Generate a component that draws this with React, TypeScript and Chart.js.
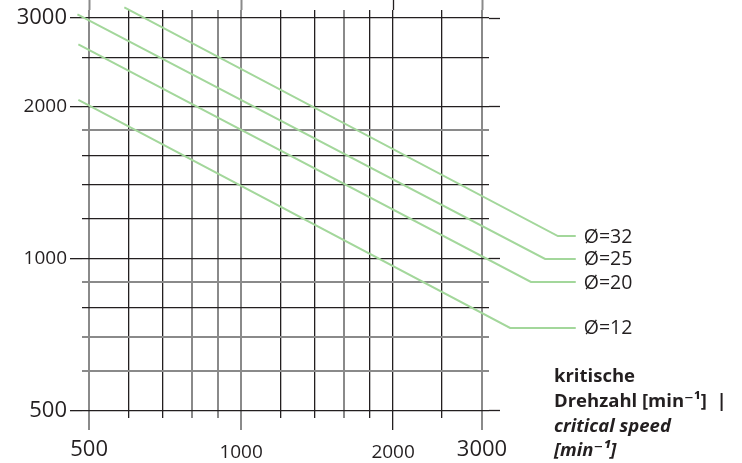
import React, { useEffect, useRef } from 'react';
import { Chart, registerables } from 'chart.js';

Chart.register(...registerables);

// Axis ranges (values)
const X_MIN = 484;
const X_MAX = 3097;
const Y_MIN = 484;
const Y_MAX = 3112;

// Grid / tick values (rpm)
const gridValues = [500, 600, 700, 800, 900, 1000, 1200, 1400, 1600, 1800, 2000, 2500, 3000];
const majorValues = [500, 1000, 2000, 3000];
const bigLabelValues = [500, 3000];
const xGreyLines = [500, 800, 900, 1000, 1600, 3000];
const yGreyLines = [600, 700, 900, 1800];

// Series (diameter curves): x = speed value, y = critical speed
const seriesLabels = ['Ø=32', 'Ø=25', 'Ø=20', 'Ø=12'];
const seriesX = [
  [587, 4240, 4600],
  [474, 4000, 4600],
  [476, 3750, 4600],
  [476, 3410, 4600],
];
const seriesY = [
  [3150, 1110, 1110],
  [3050, 1000, 1000],
  [2660, 900, 900],
  [2065, 730, 730],
];

const titleLines = [
  { text: 'kritische', italic: false },
  { text: 'Drehzahl [min⁻¹]  |', italic: false },
  { text: 'critical speed', italic: true },
  { text: '[min⁻¹]', italic: true },
];

const DARK = '#231f20';
const GREY = '#8a8a8a';
const GREEN = '#a3d79b';
const FONT = '"Open Sans", "DejaVu Sans", sans-serif';

function setGridTicks(scale: any) {
  scale.ticks = gridValues.map((v) => ({ value: v }));
}

function lineColor(grey: number[]) {
  return (ctx: any) => (ctx.tick && grey.includes(ctx.tick.value) ? GREY : DARK);
}
function lineWidth(grey: number[]) {
  return (ctx: any) => (ctx.tick && grey.includes(ctx.tick.value) ? 2 : 1.3);
}
function majorTickColor(grey: number[]) {
  return (ctx: any) => {
    if (!ctx.tick || !majorValues.includes(ctx.tick.value)) return 'rgba(0,0,0,0)';
    return grey.includes(ctx.tick.value) ? GREY : DARK;
  };
}

const tickFont = (ctx: any) => {
  const v = ctx.tick ? ctx.tick.value : 0;
  const big = bigLabelValues.includes(v);
  return { family: FONT, size: big ? 22 : 19, lineHeight: big ? 1.2 : 1.6 };
};

const labelCallback = (v: any) => (majorValues.includes(Number(v)) ? String(v) : '');

const overlayPlugin = {
  id: 'overlayText',
  afterDatasetsDraw(chart: any) {
    const ctx = chart.ctx;
    const area = chart.chartArea;
    ctx.save();
    ctx.fillStyle = DARK;
    ctx.textBaseline = 'middle';
    ctx.textAlign = 'left';
    ctx.font = `19.5px ${FONT}`;
    chart.data.datasets.forEach((ds: any, i: number) => {
      const meta = chart.getDatasetMeta(i);
      // first point of the (reversed) path is the end of the leader line
      const p = meta.data[0];
      if (p) ctx.fillText(ds.label, p.x + 8, p.y + 1);
    });
    const x0 = area.right + 65;
    let y = area.bottom - 41;
    titleLines.forEach((ln) => {
      ctx.font = `${ln.italic ? 'italic ' : ''}bold 18.5px ${FONT}`;
      ctx.fillText(ln.text, x0, y);
      y += 24.7;
    });
    ctx.restore();
  },
};

export default function App() {
  const ref = useRef<HTMLCanvasElement | null>(null);

  useEffect(() => {
    if (!ref.current) return;
    // path is built from the label end backwards, so every point is drawn
    const datasets = seriesLabels.map((label, i) => ({
      label,
      data: seriesX[i].map((x, j) => ({ x, y: seriesY[i][j] })).reverse(),
      borderColor: GREEN,
      borderWidth: 2,
      pointRadius: 0,
      fill: false,
      tension: 0,
      clip: false as any,
      xAxisID: 'x',
      yAxisID: 'y',
    }));

    const chart = new Chart(ref.current, {
      type: 'line',
      data: { datasets },
      plugins: [overlayPlugin],
      options: {
        animation: false,
        responsive: false,
        devicePixelRatio: 1,
        layout: { padding: { left: 0, top: 0, right: 242, bottom: 0 } },
        plugins: { legend: { display: false }, tooltip: { enabled: false } },
        scales: {
          x: {
            type: 'logarithmic',
            axis: 'x',
            position: 'bottom',
            min: X_MIN,
            max: X_MAX,
            afterBuildTicks: setGridTicks,
            afterFit: (s: any) => {
              s.height = 45;
              s.paddingLeft = 0;
              s.paddingRight = 0;
            },
            border: { display: false },
            grid: {
              color: lineColor(xGreyLines),
              lineWidth: lineWidth(xGreyLines),
              drawTicks: true,
              tickLength: 12,
              tickColor: majorTickColor(xGreyLines),
              tickWidth: lineWidth(xGreyLines),
            },
            ticks: {
              autoSkip: false,
              maxRotation: 0,
              minRotation: 0,
              padding: 7,
              color: DARK,
              font: tickFont,
              callback: labelCallback,
            },
          },
          xTop: {
            type: 'logarithmic',
            axis: 'x',
            position: 'top',
            min: X_MIN,
            max: X_MAX,
            afterBuildTicks: setGridTicks,
            afterFit: (s: any) => {
              s.height = 10;
              s.paddingLeft = 0;
              s.paddingRight = 0;
            },
            border: { display: false },
            grid: {
              drawOnChartArea: false,
              drawTicks: true,
              tickLength: 10,
              tickColor: majorTickColor(xGreyLines),
              tickWidth: lineWidth(xGreyLines),
            },
            ticks: { display: false, autoSkip: false },
          },
          y: {
            type: 'logarithmic',
            axis: 'y',
            position: 'left',
            min: Y_MIN,
            max: Y_MAX,
            afterBuildTicks: setGridTicks,
            afterFit: (s: any) => {
              s.width = 82;
              s.paddingTop = 0;
              s.paddingBottom = 0;
            },
            border: { display: false },
            grid: {
              color: lineColor(yGreyLines),
              lineWidth: lineWidth(yGreyLines),
              drawTicks: true,
              tickLength: 12,
              tickColor: majorTickColor(yGreyLines),
              tickWidth: lineWidth(yGreyLines),
            },
            ticks: {
              autoSkip: false,
              padding: 3,
              color: DARK,
              font: tickFont,
              callback: labelCallback,
            },
          },
          yRight: {
            type: 'logarithmic',
            axis: 'y',
            position: 'right',
            min: Y_MIN,
            max: Y_MAX,
            afterBuildTicks: setGridTicks,
            afterFit: (s: any) => {
              s.width = 11;
              s.paddingTop = 0;
              s.paddingBottom = 0;
            },
            border: { display: false },
            grid: {
              drawOnChartArea: false,
              drawTicks: true,
              tickLength: 11,
              tickColor: majorTickColor(yGreyLines),
              tickWidth: lineWidth(yGreyLines),
            },
            ticks: { display: false, autoSkip: false },
          },
        },
      } as any,
    });
    return () => chart.destroy();
  }, []);

  return (
    <div style={{ position: 'fixed', left: 0, top: 0, width: 742, height: 463, background: '#fff' }}>
      <canvas ref={ref} width={742} height={463} style={{ display: 'block', width: 742, height: 463 }} />
    </div>
  );
}
